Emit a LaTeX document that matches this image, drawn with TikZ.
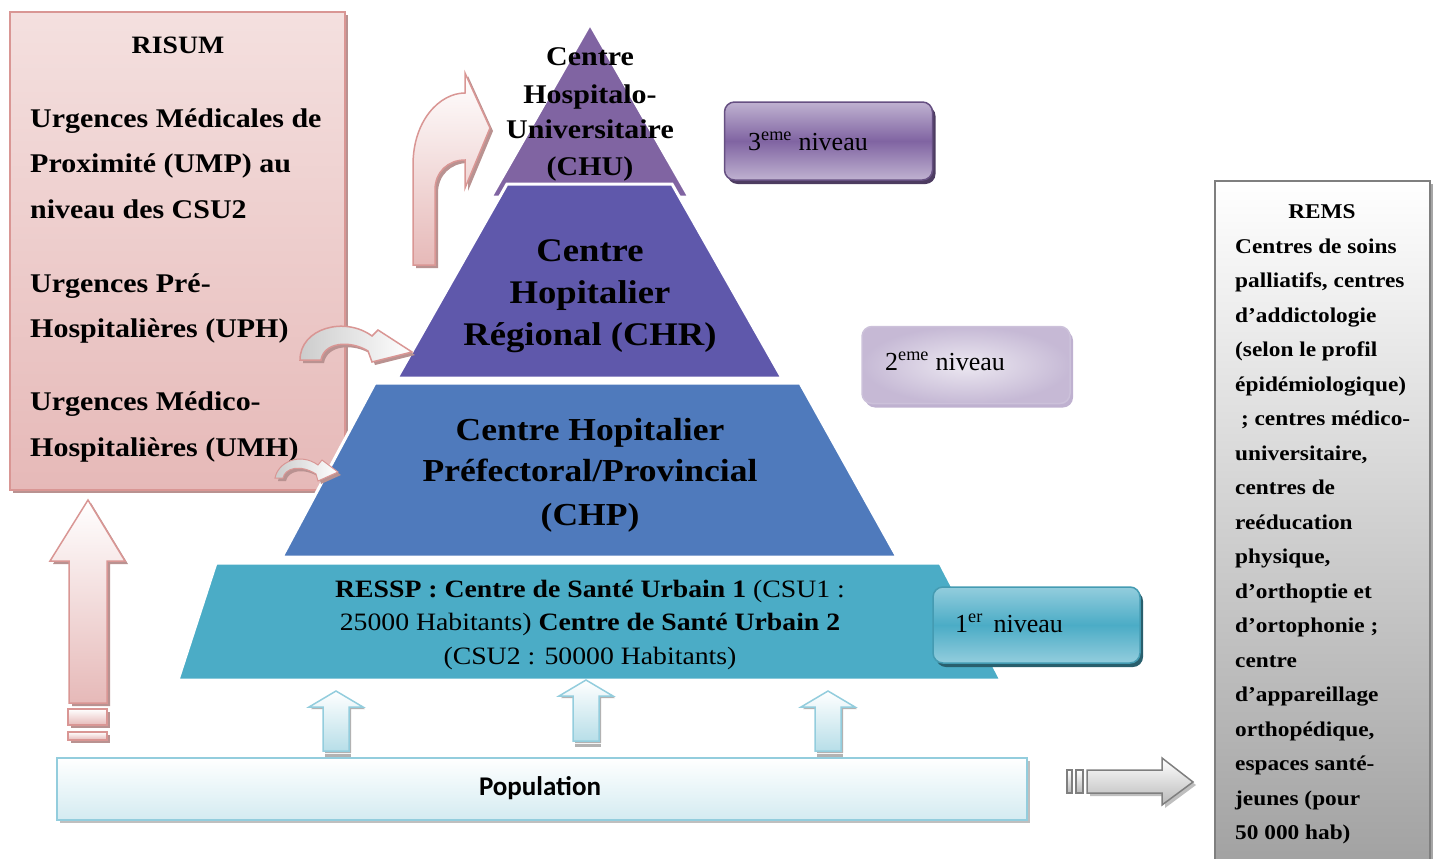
\documentclass[tikz,border=0pt]{standalone}
\usepackage{fontspec}
\setmainfont{Liberation Serif}[FakeStretch=1.11]
\newfontfamily\popfont{Carlito}
\newfontfamily\plainserif{Liberation Serif}
\usetikzlibrary{shadows,positioning}

\definecolor{chucol}{HTML}{8064A2}
\definecolor{chrcol}{HTML}{5F58AB}
\definecolor{chpcol}{HTML}{4F7ABC}
\definecolor{resspcol}{HTML}{4BACC6}
\definecolor{rosetop}{HTML}{F4E0DF}
\definecolor{rosedeep}{HTML}{E6B9B8}
\definecolor{roseline}{HTML}{D99694}
\definecolor{roseshadow}{HTML}{B99291}
\definecolor{aqualine}{HTML}{93CDDD}
\definecolor{aquadeep}{HTML}{B7DEE8}
\definecolor{grayline}{HTML}{7F7F7F}

\tikzset{
  tier/.style={draw=white, line width=3pt, line join=miter},
  tiertext/.style={anchor=base, font=\bfseries\fontsize{#1}{#1}\selectfont},
  urgtext/.style={anchor=base west, inner sep=0pt, font=\bfseries\fontsize{27}{27}\selectfont},
  remstext/.style={anchor=base west, inner sep=0pt, font=\bfseries\fontsize{21}{21}\selectfont},
  lvltext/.style={anchor=base west, inner sep=0pt, font=\plainserif\fontsize{26}{26}\selectfont},
  lvlbox/.style={rounded corners=10pt, inner sep=0pt, line width=1.5pt,
    drop shadow={shadow xshift=3pt, shadow yshift=-4pt, fill=#1, opacity=1}},
  rosearrow/.style={top color=white, bottom color=rosedeep, draw=roseline, line width=1.5pt,
    drop shadow={shadow xshift=3pt, shadow yshift=-3pt, fill=roseshadow, opacity=1}},
  aquaarrow/.style={top color=white, bottom color=aquadeep, draw=aqualine, line width=1.5pt,
    drop shadow={shadow xshift=2pt, shadow yshift=-2pt, fill=gray!60, opacity=1}}
}

\begin{document}
\begin{tikzpicture}[x=1pt,y=-1pt]
\useasboundingbox (0,0) rectangle (1435,859);

% RISUM
\node[minimum width=335pt, minimum height=478pt, inner sep=0pt, line width=2pt,
  draw=roseline, top color=rosetop, bottom color=rosedeep,
  drop shadow={shadow xshift=3pt, shadow yshift=-3pt, fill=roseshadow, opacity=1}]
  (risum) at (177.5,251) {};
\node[anchor=base, font=\bfseries\fontsize{25}{25}\selectfont] (risumtitle) at (178,54) {RISUM};
\foreach \y/\t [count=\i] in {127/Urgences Médicales de, 172/Proximité (UMP) au,
    218/niveau des CSU2, 292/Urgences Pré-, 337/Hospitalières (UPH),
    410/Urgences Médico-, 456/Hospitalières (UMH)}
  \node[urgtext] (urg\i) at (30,\y) {\t};

% pyramid
\filldraw[tier, fill=chucol] (590,24) -- (491,197) -- (689,197) -- cycle;
\filldraw[tier, fill=chrcol] (507,184) -- (672,184) -- (782,378) -- (397,378) -- cycle;
\filldraw[tier, fill=chpcol] (375,383) -- (800,383) -- (897,557) -- (282,557) -- cycle;
\filldraw[tier, fill=resspcol] (216,563) -- (940,563) -- (1001,680) -- (178,680) -- cycle;

\foreach \y/\t [count=\i] in {66/Centre, 103/Hospitalo-, 138/Universitaire, 175/(CHU)}
  \node[tiertext=27] (chu\i) at (590,\y) {\t};
\foreach \y/\t [count=\i] in {261/Centre, 303/Hopitalier, 345/Régional (CHR)}
  \node[tiertext=33] (chr\i) at (590,\y) {\t};
\foreach \y/\t [count=\i] in {440/Centre Hopitalier, 481/{Préfectoral/Provincial}, 525/(CHP)}
  \node[tiertext=32] (chp\i) at (590,\y) {\t};
\node[anchor=base, font=\fontsize{25}{25}\selectfont] (ressp1) at (590,597)
  {\textbf{RESSP : Centre de Santé Urbain 1} (CSU1 :};
\node[anchor=base, font=\fontsize{25}{25}\selectfont] (ressp2) at (590,630)
  {25000 Habitants) \textbf{Centre de Santé Urbain 2}};
\node[anchor=base, font=\fontsize{25}{25}\selectfont] (ressp3) at (590,664)
  {(CSU2 : 50000 Habitants)};

% arrows from RISUM
\path[rosearrow] (413,265) -- (413,165) .. controls (413,120) and (440,93) .. (465,93)
  -- (465,73) -- (490,128) -- (465,188) -- (465,160)
  .. controls (448,160) and (435,172) .. (435,190) -- (435,265) -- cycle;
\path[rosearrow, left color=gray!40, right color=white]
  (300,360) .. controls (300,328) and (345,316) .. (372,336) -- (378,330) -- (412,352)
  -- (372,362) -- (368,351) .. controls (350,340) and (324,342) .. (321,360) -- cycle;
\path[rosearrow, left color=gray!40, right color=white, line width=1pt]
  (275,478) .. controls (278,462) and (300,452) .. (318,465) -- (322,460) -- (338,472)
  -- (318,481) -- (316,474) .. controls (300,464) and (285,468) .. (283,478) -- cycle;

% big arrow up to RISUM
\path[rosearrow] (88,500) -- (125,561) -- (107,561) -- (107,703) -- (69,703)
  -- (69,561) -- (50,561) -- cycle;
\path[rosearrow] (68,709) rectangle (107,725);
\path[rosearrow] (68,732) rectangle (107,740);

% levels
\node[lvlbox=chucol!60!black, draw=chucol!80!black, top color=chucol!50!white,
  bottom color=chucol!50!white, middle color=chucol,
  minimum width=208pt, minimum height=78pt] (lvl3) at (828.5,141) {};
\node[lvltext] (lvl3txt) at (748,150) {3\textsuperscript{eme} niveau};
\node[lvlbox=chucol!50, draw=chucol!40, inner color=white!85!chucol, outer color=chucol!45,
  minimum width=208pt, minimum height=77pt] (lvl2) at (966,365) {};
\node[lvltext] (lvl2txt) at (885,370) {2\textsuperscript{eme} niveau};
\node[lvlbox=resspcol!55!black, draw=resspcol!90!black, top color=aqualine,
  bottom color=aqualine, middle color=resspcol,
  minimum width=207pt, minimum height=76pt] (lvl1) at (1036.5,625) {};
\node[lvltext] (lvl1txt) at (955,632) {1\textsuperscript{er}\, niveau};

% population
\node[minimum width=970pt, minimum height=62pt, inner sep=0pt, line width=2pt,
  draw=aqualine, top color=white, bottom color=aquadeep!60,
  drop shadow={shadow xshift=3pt, shadow yshift=-3pt, fill=gray!50, opacity=1}]
  (population) at (542,789) {};
\node[font=\popfont\bfseries\fontsize{27}{27}\selectfont] (poptxt) at (540,788) {Population};

\foreach \x/\t/\b [count=\i] in {336/691/751, 586/680/741, 828/691/751}
{
  \path[aquaarrow] (\x,\t) -- (\x+27,\t+16) -- (\x+13,\t+16) -- (\x+13,\b) -- (\x-13,\b)
    -- (\x-13,\t+16) -- (\x-27,\t+16) -- cycle;
  \fill[gray!60] (\x-11,\b+3) rectangle (\x+15,\b+6);
}

% arrow to REMS
\path[top color=white, bottom color=gray!55, draw=grayline, line width=1.5pt,
  drop shadow={shadow xshift=3pt, shadow yshift=-3pt, fill=gray!50, opacity=1}]
  (1087,770) -- (1162,770) -- (1162,758) -- (1193,782) -- (1162,805) -- (1162,793)
  -- (1087,793) -- cycle;
\path[top color=white, bottom color=gray!55, draw=grayline, line width=1.2pt]
  (1067,770) rectangle (1072,793);
\path[top color=white, bottom color=gray!55, draw=grayline, line width=1.2pt]
  (1076,770) rectangle (1083,793);

% REMS
\node[minimum width=215pt, minimum height=700pt, inner sep=0pt, line width=2pt,
  draw=grayline, top color=white, bottom color=gray!75,
  drop shadow={shadow xshift=3pt, shadow yshift=-3pt, fill=gray!70, opacity=1}]
  (rems) at (1322.5,531) {};
\node[anchor=base, font=\bfseries\fontsize{21}{21}\selectfont] (remstitle) at (1322,218) {REMS};
\foreach \t [count=\i] in {Centres de soins, {palliatifs, centres}, d’addictologie,
    {(selon le profil}, {épidémiologique)}, {\ ; centres médico-}, {universitaire,},
    centres de, reéducation, {physique,}, d’orthoptie et, d’ortophonie ;, centre,
    d’appareillage, {orthopédique,}, espaces santé-, jeunes (pour, 50 000 hab)}
  \node[remstext] (rems\i) at (1235,253+34.5*\i-34.5) {\t};
\end{tikzpicture}
\end{document}
